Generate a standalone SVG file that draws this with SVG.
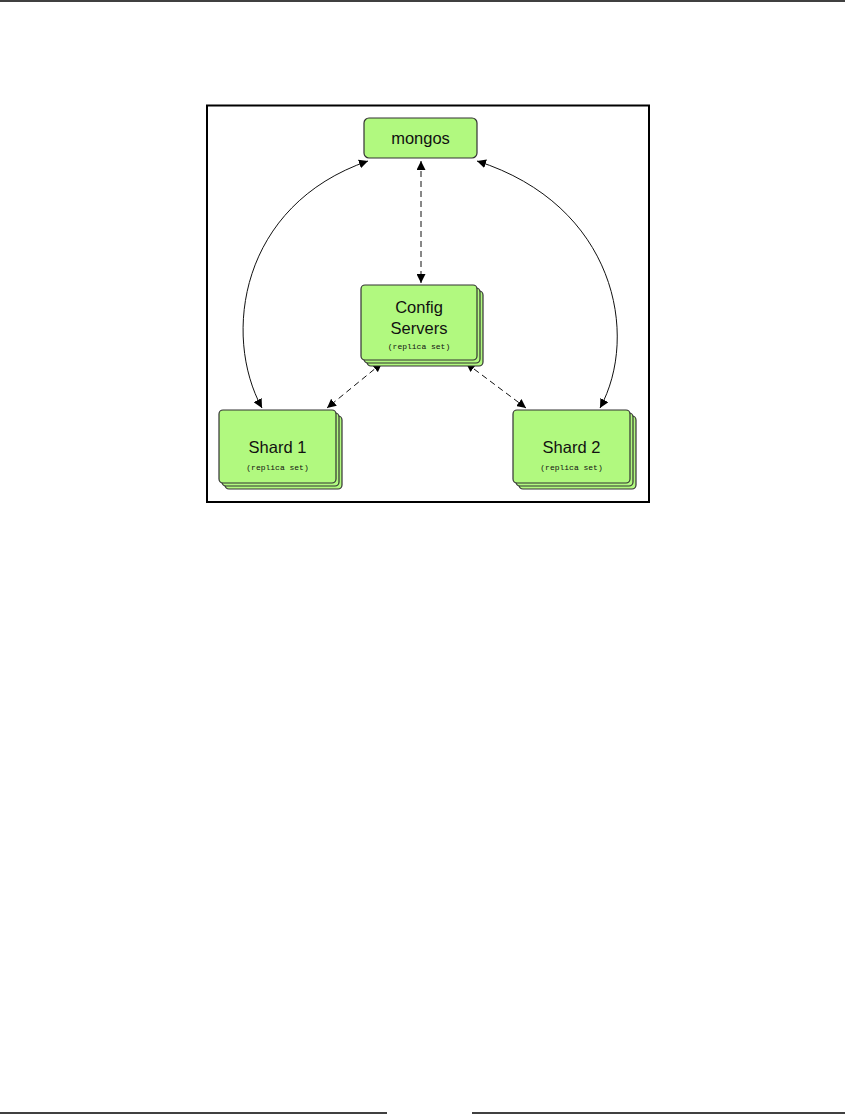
<svg xmlns="http://www.w3.org/2000/svg" width="857" height="1114" viewBox="0 0 857 1114">
<style>
.box{fill:#b1f97f;stroke:#333;stroke-width:1.2}
.lbl{font-family:"Liberation Sans",Arial,sans-serif;font-size:16.5px;fill:#111;text-anchor:middle}
.sub{font-family:"Liberation Mono","Courier New",monospace;font-size:8px;fill:#111;text-anchor:middle}
.con{fill:none;stroke:#111;stroke-width:1}
.dash{stroke-dasharray:6,4}
</style>
<defs>
<marker id="arr" viewBox="0 0 10 10" refX="10" refY="5" markerWidth="9" markerHeight="9" markerUnits="userSpaceOnUse" orient="auto-start-reverse">
<path d="M0,0 L10,5 L0,10 z" fill="#000"/>
</marker>
</defs>
<rect width="857" height="1114" fill="#fff"/>
<line x1="0" y1="1" x2="845" y2="1" stroke="#000" stroke-width="1.5"/>
<line x1="0" y1="1113" x2="387" y2="1113" stroke="#000" stroke-width="1.5"/>
<line x1="472" y1="1113" x2="845" y2="1113" stroke="#000" stroke-width="1.5"/>
<rect x="207" y="105.5" width="442" height="396.5" fill="none" stroke="#000" stroke-width="2"/>
<g id="connectors">
<path class="con" d="M368,161 C240,205 222,335 262,408" marker-start="url(#arr)" marker-end="url(#arr)"/>
<path class="con" d="M477,161 C615,205 640,335 600,408" marker-start="url(#arr)" marker-end="url(#arr)"/>
<path class="con dash" d="M421,161 L421,283" marker-start="url(#arr)" marker-end="url(#arr)"/>
<path class="con dash" d="M382,363 L327,408" marker-start="url(#arr)" marker-end="url(#arr)"/>
<path class="con dash" d="M466,363 L526,408" marker-start="url(#arr)" marker-end="url(#arr)"/>
</g>
<g id="mongos">
<rect class="box" x="364" y="118" width="113" height="40" rx="5"/>
<text class="lbl" x="420.5" y="144">mongos</text>
</g>
<g id="config">
<rect class="box" x="367" y="291" width="116" height="75" rx="4"/>
<rect class="box" x="364" y="288" width="116" height="75" rx="4"/>
<rect class="box" x="361" y="285" width="116" height="75" rx="4"/>
<text class="lbl" x="419" y="313">Config</text>
<text class="lbl" x="419" y="334">Servers</text>
<text class="sub" x="419" y="349">(replica set)</text>
</g>
<g id="shard1">
<rect class="box" x="225" y="416" width="117" height="73" rx="4"/>
<rect class="box" x="222" y="413" width="117" height="73" rx="4"/>
<rect class="box" x="219" y="410" width="117" height="73" rx="4"/>
<text class="lbl" x="277.5" y="453">Shard 1</text>
<text class="sub" x="277.5" y="470">(replica set)</text>
</g>
<g id="shard2">
<rect class="box" x="519" y="416" width="117" height="73" rx="4"/>
<rect class="box" x="516" y="413" width="117" height="73" rx="4"/>
<rect class="box" x="513" y="410" width="117" height="73" rx="4"/>
<text class="lbl" x="571.5" y="453">Shard 2</text>
<text class="sub" x="571.5" y="470">(replica set)</text>
</g>
</svg>
